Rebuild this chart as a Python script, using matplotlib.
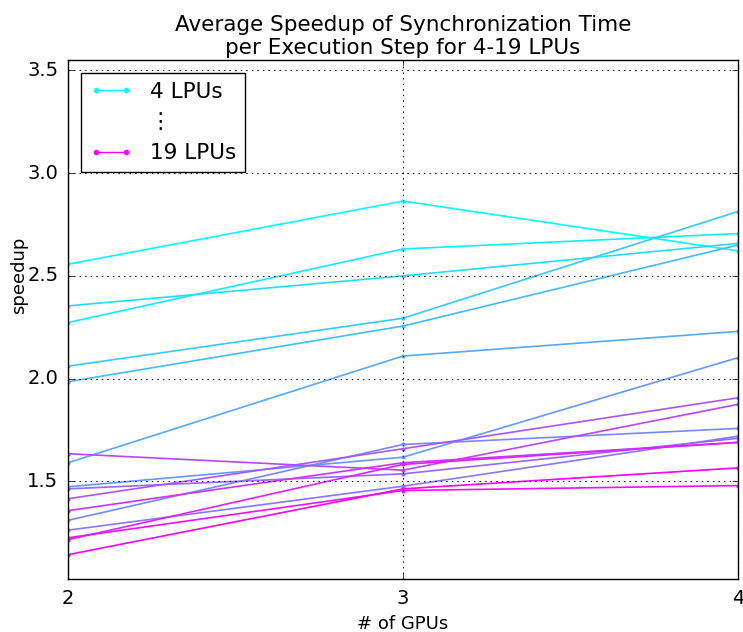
import matplotlib
matplotlib.use("Agg")
import matplotlib.pyplot as plt
from matplotlib.lines import Line2D

plt.style.use('classic')

gpus = [2, 3, 4]
lpus = list(range(4, 20))

# speedup per LPU count, at 2, 3, 4 GPUs
speedups = [
    [2.557, 2.864, 2.622],
    [2.273, 2.631, 2.706],
    [2.354, 2.500, 2.658],
    [2.061, 2.294, 2.813],
    [1.985, 2.256, 2.650],
    [1.591, 2.110, 2.230],
    [1.474, 1.618, 2.102],
    [1.311, 1.680, 1.758],
    [1.263, 1.477, 1.720],
    [1.464, 1.537, 1.710],
    [1.416, 1.659, 1.907],
    [1.635, 1.555, 1.875],
    [1.358, 1.591, 1.690],
    [1.217, 1.583, 1.690],
    [1.226, 1.456, 1.480],
    [1.144, 1.464, 1.566],
]

fig = plt.figure(figsize=(7.43, 6.32), dpi=100, facecolor='white')
ax = fig.add_axes([0.0915, 0.084, 0.9015, 0.821])
ax.set_facecolor('white')

cmap = plt.get_cmap('cool')
n = len(speedups)
for i, vals in enumerate(speedups):
    ax.plot(gpus, vals, color=cmap(i / (n - 1)), marker='.', markersize=6,
            markeredgewidth=0, linewidth=1.2)

ax.set_xlim(2, 4)
ax.set_ylim(1.026, 3.55)
ax.set_xticks(gpus)
ax.set_yticks([1.5, 2.0, 2.5, 3.0, 3.5])
ax.tick_params(labelsize=14, pad=7)
ax.grid(True, color='k', linestyle=':', linewidth=0.8)
ax.set_xlabel('# of GPUs', fontsize=13)
ax.set_ylabel('speedup', fontsize=13)
ax.yaxis.set_label_coords(-0.06, 0.586)
ax.set_title('Average Speedup of Synchronization Time\nper Execution Step for 4-19 LPUs',
             fontsize=15.5, y=0.998)

handles = [
    Line2D([], [], color=cmap(0.0), marker='.', markersize=8, markeredgewidth=0),
    Line2D([], [], color='none'),
    Line2D([], [], color=cmap(1.0), marker='.', markersize=8, markeredgewidth=0),
]
labels = ['%d LPUs' % lpus[0], '\u22ee', '%d LPUs' % lpus[-1]]
leg = ax.legend(handles, labels, loc='upper left', fontsize=15.5, numpoints=2,
                fancybox=False, borderaxespad=0.6, handletextpad=0.8)
leg.get_frame().set_edgecolor('black')

fig.savefig('out.png', dpi=100, facecolor='white')
